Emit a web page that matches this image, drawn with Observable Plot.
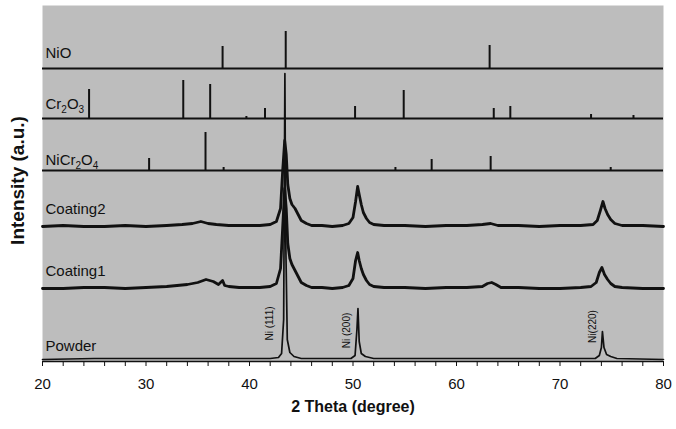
<!DOCTYPE html>
<html><head><meta charset="utf-8">
<script src="https://cdn.jsdelivr.net/npm/d3@7"></script>
<script src="https://cdn.jsdelivr.net/npm/@observablehq/plot@0.6"></script>
<style>body{margin:0;background:#fff} svg{display:block}</style>
</head><body><div id="chart"></div>
<script>
// ---------------- data ----------------
// reference stick patterns (2θ in degrees, relative intensity a.u.)
const nioTheta = [37.4, 43.5, 63.2];
const nioInt   = [22, 37, 23];
const cr2o3Theta = [24.5, 33.6, 36.2, 39.7, 41.5, 50.2, 54.9, 63.6, 65.2, 73.0, 77.1];
const cr2o3Int   = [29, 38, 34, 2, 10, 12, 28, 10, 12, 4, 3];
const nicr2o4Theta = [30.3, 35.75, 37.5, 43.5, 54.1, 57.6, 63.3, 74.9];
const nicr2o4Int   = [12, 38, 3, 20, 3, 11, 14, 3];

// measured patterns
const coating2Theta = [20, 22, 24, 26, 28, 30, 32, 33.5, 34.5, 35.3, 36, 36.8, 38, 39, 40, 41, 42, 42.6, 43.0, 43.2, 43.4, 43.55, 43.7, 43.9, 44.1, 44.4, 44.7, 45.0, 45.5, 46, 47, 48, 49, 49.6, 50.0, 50.25, 50.45, 50.6, 50.8, 51.0, 51.3, 51.6, 52.0, 53, 55, 57, 59, 61, 62.5, 63.3, 64, 66, 68, 70, 72, 73.2, 73.6, 73.9, 74.15, 74.35, 74.6, 74.9, 75.3, 76, 78, 80];
const coating2Int   = [0, 1, 0, 0, 1, 0, 1, 2, 3, 5, 3, 2, 1, 1, 1, 1, 2, 5, 18, 55, 86, 72, 42, 28, 22, 18, 12, 6, 3, 1, 1, 0, 1, 3, 9, 25, 40, 32, 22, 14, 8, 4, 2, 1, 1, 0, 1, 1, 2, 3, 1, 1, 0, 1, 1, 2, 6, 16, 25, 18, 12, 7, 3, 1, 1, 0];
const coating1Theta = [20, 22, 24, 26, 28, 30, 32, 33, 34, 35, 35.8, 36.5, 37.0, 37.4, 37.6, 38, 39, 40, 41, 42, 42.6, 43.0, 43.2, 43.4, 43.55, 43.7, 43.9, 44.1, 44.4, 44.7, 45.0, 45.5, 46, 47, 48, 49, 49.6, 50.0, 50.25, 50.45, 50.6, 50.8, 51.0, 51.3, 51.6, 52.0, 53, 55, 57, 59, 61, 62.5, 63.0, 63.4, 63.8, 64.3, 66, 68, 70, 72, 73.0, 73.5, 73.8, 74.05, 74.3, 74.6, 74.9, 75.3, 76, 78, 80];
const coating1Int   = [0, 0, 1, 1, 0, 1, 2, 3, 4, 6, 9, 7, 4, 8, 3, 2, 1, 1, 1, 2, 5, 20, 60, 100, 80, 45, 30, 24, 18, 12, 6, 3, 1, 1, 0, 1, 3, 10, 28, 36, 28, 20, 14, 8, 4, 2, 1, 1, 0, 1, 1, 2, 5, 6, 4, 1, 1, 0, 0, 1, 2, 6, 16, 21, 14, 9, 5, 2, 1, 0, 0];
const powderTheta = [20, 25, 30, 35, 40, 42, 42.8, 43.1, 43.3, 43.42, 43.5, 43.65, 43.9, 44.3, 45, 48, 49.8, 50.2, 50.38, 50.48, 50.6, 50.8, 51.2, 52, 56, 60, 65, 70, 73.4, 73.8, 74.0, 74.1, 74.25, 74.5, 74.9, 75.5, 80];
const powderInt   = [0, 1, 1, 1, 1, 1, 2, 6, 40, 286, 120, 20, 7, 3, 1, 1, 1, 4, 30, 51, 18, 6, 3, 1, 1, 1, 1, 1, 1, 4, 12, 28, 12, 5, 3, 1, 0];

// labels
const seriesNames = ["NiO", "Cr2O3", "NiCr2O4", "Coating2", "Coating1", "Powder"];
const peakLabels = ["Ni (111)", "Ni (200)", "Ni(220)"];
const peakTheta  = [42.0, 49.4, 73.2];
const xTicks = [20, 30, 40, 50, 60, 70, 80];
const xLabel = "2 Theta (degree)";
const yLabel = "Intensity (a.u.)";

// ---------------- layout (stack offsets) ----------------
const offsets = [293, 243, 191, 135, 73, 2];       // vertical stacking per series
const labelLift = [15, 14, 10, 17, 17, 13];        // label height above baseline
const peakLabelY = [38, 31, 35];

const stickSets = [[nioTheta, nioInt], [cr2o3Theta, cr2o3Int], [nicr2o4Theta, nicr2o4Int]];
const sticks = stickSets.flatMap(([t, v], i) => t.map((x, j) => ({theta: x, base: offsets[i], top: offsets[i] + v[j]})));
const traceSets = [[coating2Theta, coating2Int, 3], [coating1Theta, coating1Int, 4], [powderTheta, powderInt, 5]];
const traces = traceSets.flatMap(([t, v, k]) => t.map((x, j) => ({theta: x, y: offsets[k] + v[j], name: seriesNames[k]})));
const labels = seriesNames.map((n, i) => ({name: n, y: offsets[i] + labelLift[i]}));
const peaks = peakLabels.map((n, i) => ({name: n, theta: peakTheta[i], y: peakLabelY[i]}));

const font = "Arial, 'Liberation Sans', Helvetica, sans-serif";

const chart = Plot.plot({
  width: 676, height: 429,
  marginLeft: 42, marginRight: 13, marginTop: 5, marginBottom: 68,
  style: {fontFamily: font, fontSize: "15px", color: "#111", background: "#fff", overflow: "visible"},
  x: {domain: [20, 80]},
  y: {domain: [0, 356], axis: null},
  marks: [
    Plot.frame({fill: "#bdbdbd", stroke: null}),
    Plot.ruleY(offsets.slice(0, 3), {stroke: "#111", strokeWidth: 2}),
    Plot.ruleX(sticks, {x: "theta", y1: "base", y2: "top", stroke: "#111", strokeWidth: 2}),
    Plot.line(traces.filter(d => d.name !== "Powder"), {x: "theta", y: "y", z: "name", stroke: "#111", strokeWidth: 2.8, strokeLinejoin: "round"}),
    Plot.line(traces.filter(d => d.name === "Powder"), {x: "theta", y: "y", z: "name", stroke: "#111", strokeWidth: 1.7}),
    Plot.ruleY([0], {stroke: "#111", strokeWidth: 1.5}),
    Plot.axisX({ticks: d3.range(20, 81, 2), tickFormat: d => xTicks.includes(d) ? String(d) : "", tickSize: 5, tickPadding: 12, label: null, fontSize: 15, stroke: "#111"}),
    Plot.text(labels, {x: 20, y: "y", text: "name", textAnchor: "start", dx: 3, fontSize: 15, fill: "#111"}),
    Plot.text(peaks, {x: "theta", y: "y", text: "name", rotate: -90, fontSize: 10, fill: "#111"}),
    Plot.text([xLabel], {frameAnchor: "bottom", dy: 50, fontSize: 16, fontWeight: "bold", fill: "#111"}),
    Plot.text([yLabel], {x: 17.6, y: 181, rotate: -90, fontSize: 19, fontWeight: "bold", fill: "#111", clip: false})
  ]
});

// chemical formula subscripts
chart.querySelectorAll("text").forEach(t => {
  const s = t.textContent;
  if (s === "Cr2O3" || s === "NiCr2O4") {
    t.textContent = "";
    const ns = "http://www.w3.org/2000/svg";
    const parts = s.match(/[A-Za-z]+|\d+/g);
    let shifted = false;
    parts.forEach(p => {
      const sp = document.createElementNS(ns, "tspan");
      sp.textContent = p;
      if (/\d/.test(p)) { sp.setAttribute("font-size", "10"); sp.setAttribute("dy", "4"); shifted = true; }
      else if (shifted) { sp.setAttribute("dy", "-4"); shifted = false; }
      t.appendChild(sp);
    });
  }
});
document.getElementById("chart").appendChild(chart);
</script>
</body></html>
